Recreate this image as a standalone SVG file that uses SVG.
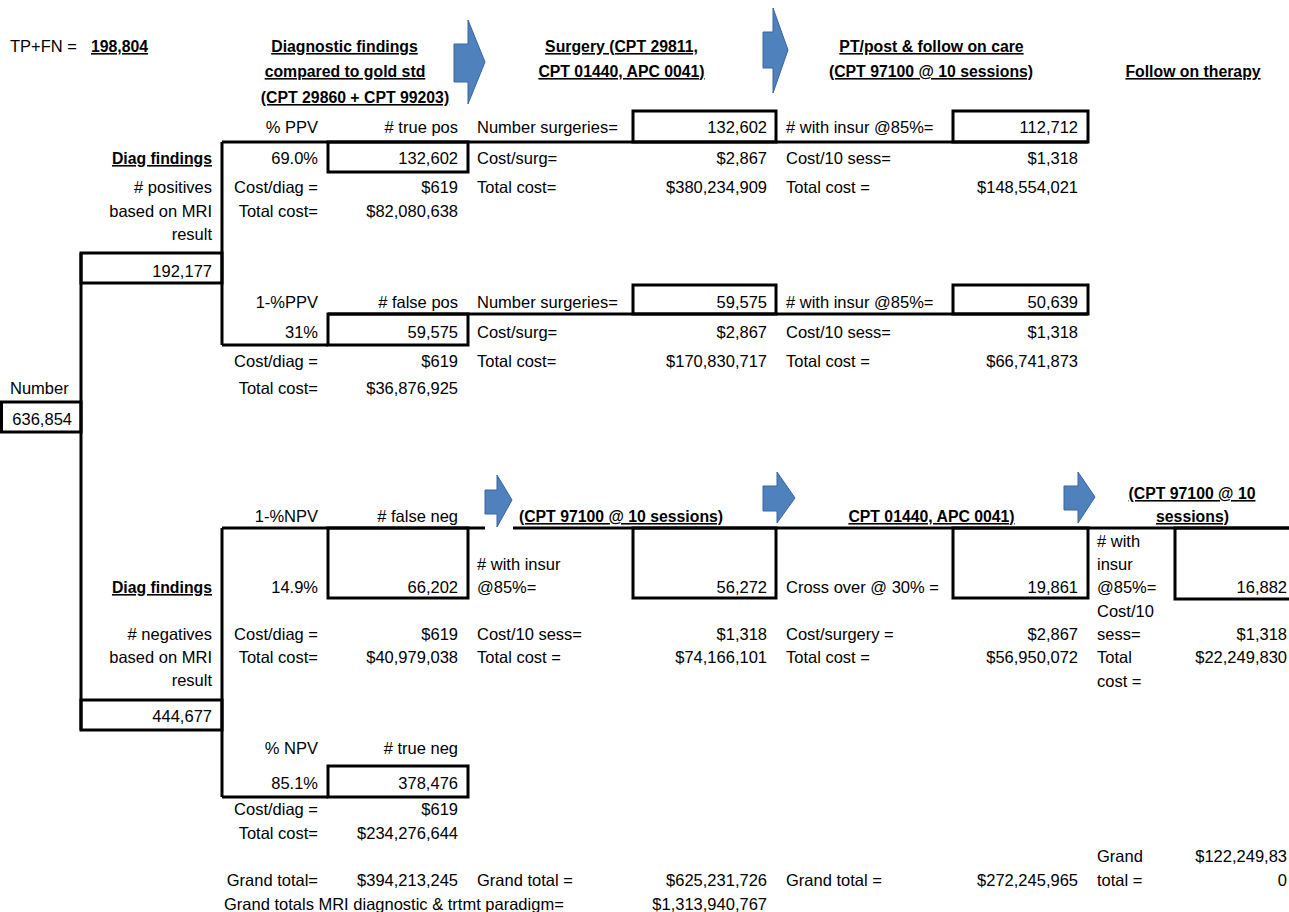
<svg xmlns="http://www.w3.org/2000/svg" width="1289" height="912" viewBox="0 0 1289 912">
<style>
text{font-family:"Liberation Sans",Arial,sans-serif;font-size:16.5px;fill:#000}
.r{text-anchor:end}
.m{text-anchor:middle}
.b{font-weight:bold;font-size:15.8px;text-decoration:underline}
.box{fill:none;stroke:#000;stroke-width:3}
.ln{fill:none;stroke:#000;stroke-width:3}
.arr{fill:#4F81BD;stroke:#3A64A0;stroke-width:1}
</style>
<rect width="1289" height="912" fill="#fff"/>

<g id="connectors">
<path class="ln" d="M81 253V730"/>
<path class="ln" d="M222 142V345"/>
<path class="ln" d="M222 528V797"/>
<path class="ln" d="M222 142H1088"/>
<path class="ln" d="M222 345H328"/>
<path class="ln" d="M328 314H1088"/>
<path class="ln" d="M222 528H485M513 528H1295"/>
<path class="ln" d="M222 797H328"/>
</g>

<g id="arrows">
<polygon class="arr" points="454,44 468,44 468,20 485,62 468,104 468,82 454,82"/>
<polygon class="arr" points="763,32 773,32 773,8 788,50 773,93 773,68 763,68"/>
<polygon class="arr" points="485,490 497,490 497,475 512,500 497,527 497,514 485,514"/>
<polygon class="arr" points="763,486 777,486 777,472 795,498 777,523 777,511 763,511"/>
<polygon class="arr" points="1064,486 1078,486 1078,472 1095,497 1078,523 1078,510 1064,510"/>
</g>

<g id="header">
<text x="10" y="52">TP+FN =</text>
<text x="91" y="52" class="b">198,804</text>
<text x="344.5" y="52" class="b m">Diagnostic findings</text>
<text x="345" y="77" class="b m">compared to gold std</text>
<text x="355" y="103" class="b m">(CPT 29860 + CPT 99203)</text>
<text x="621.5" y="52" class="b m">Surgery (CPT 29811,</text>
<text x="621.5" y="77" class="b m">CPT 01440, APC 0041)</text>
<text x="931.5" y="52" class="b m">PT/post &amp; follow on care</text>
<text x="931" y="77" class="b m">(CPT 97100 @ 10 sessions)</text>
<text x="1193" y="77" class="b m">Follow on therapy</text>
</g>

<g id="root">
<rect class="box" x="1.5" y="402" width="79.5" height="30"/>
<text x="10" y="394">Number</text>
<text x="72" y="425" class="r">636,854</text>
</g>

<g id="positives">
<rect class="box" x="81" y="253" width="141" height="30"/>
<text x="212" y="164" class="r b">Diag findings</text>
<text x="212" y="193" class="r"># positives</text>
<text x="212" y="217" class="r">based on MRI</text>
<text x="212" y="240" class="r">result</text>
<text x="212" y="277" class="r">192,177</text>
</g>

<g id="true-pos">
<rect class="box" x="328" y="142" width="140" height="30"/>
<text x="318" y="133" class="r">% PPV</text>
<text x="458" y="133" class="r"># true pos</text>
<text x="318" y="164" class="r">69.0%</text>
<text x="458" y="164" class="r">132,602</text>
<text x="318" y="193" class="r">Cost/diag =</text>
<text x="458" y="193" class="r">$619</text>
<text x="318" y="217" class="r">Total cost=</text>
<text x="458" y="217" class="r">$82,080,638</text>
</g>

<g id="surgery-tp">
<rect class="box" x="633" y="111" width="143" height="31"/>
<text x="477" y="133">Number surgeries=</text>
<text x="767" y="133" class="r">132,602</text>
<text x="477" y="164">Cost/surg=</text>
<text x="767" y="164" class="r">$2,867</text>
<text x="477" y="193">Total cost=</text>
<text x="767" y="193" class="r">$380,234,909</text>
</g>

<g id="pt-tp">
<rect class="box" x="953" y="111" width="135" height="31"/>
<text x="786" y="133"># with insur @85%=</text>
<text x="1078" y="133" class="r">112,712</text>
<text x="786" y="164">Cost/10 sess=</text>
<text x="1078" y="164" class="r">$1,318</text>
<text x="786" y="193">Total cost =</text>
<text x="1078" y="193" class="r">$148,554,021</text>
</g>

<g id="false-pos">
<rect class="box" x="328" y="314" width="140" height="31"/>
<text x="318" y="308" class="r">1-%PPV</text>
<text x="458" y="308" class="r"># false pos</text>
<text x="318" y="338" class="r">31%</text>
<text x="458" y="338" class="r">59,575</text>
<text x="318" y="367" class="r">Cost/diag =</text>
<text x="458" y="367" class="r">$619</text>
<text x="318" y="394" class="r">Total cost=</text>
<text x="458" y="394" class="r">$36,876,925</text>
</g>

<g id="surgery-fp">
<rect class="box" x="633" y="285" width="143" height="29"/>
<text x="477" y="308">Number surgeries=</text>
<text x="767" y="308" class="r">59,575</text>
<text x="477" y="338">Cost/surg=</text>
<text x="767" y="338" class="r">$2,867</text>
<text x="477" y="367">Total cost=</text>
<text x="767" y="367" class="r">$170,830,717</text>
</g>

<g id="pt-fp">
<rect class="box" x="953" y="285" width="135" height="29"/>
<text x="786" y="308"># with insur @85%=</text>
<text x="1078" y="308" class="r">50,639</text>
<text x="786" y="338">Cost/10 sess=</text>
<text x="1078" y="338" class="r">$1,318</text>
<text x="786" y="367">Total cost =</text>
<text x="1078" y="367" class="r">$66,741,873</text>
</g>

<g id="negatives">
<rect class="box" x="81" y="700" width="141" height="30"/>
<text x="212" y="593" class="r b">Diag findings</text>
<text x="212" y="640" class="r"># negatives</text>
<text x="212" y="663" class="r">based on MRI</text>
<text x="212" y="686" class="r">result</text>
<text x="212" y="722" class="r">444,677</text>
</g>

<g id="false-neg">
<rect class="box" x="328" y="528" width="140" height="70"/>
<text x="318" y="522" class="r">1-%NPV</text>
<text x="458" y="522" class="r"># false neg</text>
<text x="318" y="593" class="r">14.9%</text>
<text x="458" y="593" class="r">66,202</text>
<text x="318" y="640" class="r">Cost/diag =</text>
<text x="458" y="640" class="r">$619</text>
<text x="318" y="663" class="r">Total cost=</text>
<text x="458" y="663" class="r">$40,979,038</text>
</g>

<g id="pt-fn">
<rect class="box" x="633" y="528" width="143" height="70"/>
<text x="621" y="522" class="b m">(CPT 97100 @ 10 sessions)</text>
<text x="477" y="570"># with insur</text>
<text x="477" y="593">@85%=</text>
<text x="767" y="593" class="r">56,272</text>
<text x="477" y="640">Cost/10 sess=</text>
<text x="767" y="640" class="r">$1,318</text>
<text x="477" y="663">Total cost =</text>
<text x="767" y="663" class="r">$74,166,101</text>
</g>

<g id="surgery-fn">
<rect class="box" x="953" y="528" width="135" height="70"/>
<text x="931.5" y="522" class="b m">CPT 01440, APC 0041)</text>
<text x="786" y="593">Cross over @ 30% =</text>
<text x="1078" y="593" class="r">19,861</text>
<text x="786" y="640">Cost/surgery =</text>
<text x="1078" y="640" class="r">$2,867</text>
<text x="786" y="663">Total cost =</text>
<text x="1078" y="663" class="r">$56,950,072</text>
</g>

<g id="followon-fn">
<rect class="box" x="1175" y="528" width="130" height="71"/>
<text x="1192" y="499" class="b m">(CPT 97100 @ 10</text>
<text x="1192.5" y="522" class="b m">sessions)</text>
<text x="1097" y="547"># with</text>
<text x="1097" y="570">insur</text>
<text x="1097" y="593">@85%=</text>
<text x="1287" y="593" class="r">16,882</text>
<text x="1097" y="617">Cost/10</text>
<text x="1097" y="640">sess=</text>
<text x="1287" y="640" class="r">$1,318</text>
<text x="1097" y="663">Total</text>
<text x="1287" y="663" class="r">$22,249,830</text>
<text x="1097" y="687">cost =</text>
</g>

<g id="true-neg">
<rect class="box" x="328" y="766" width="140" height="31"/>
<text x="318" y="754" class="r">% NPV</text>
<text x="458" y="754" class="r"># true neg</text>
<text x="318" y="789" class="r">85.1%</text>
<text x="458" y="789" class="r">378,476</text>
<text x="318" y="815" class="r">Cost/diag =</text>
<text x="458" y="815" class="r">$619</text>
<text x="318" y="839" class="r">Total cost=</text>
<text x="458" y="839" class="r">$234,276,644</text>
</g>

<g id="totals">
<text x="1097" y="862">Grand</text>
<text x="1287" y="862" class="r">$122,249,83</text>
<text x="318" y="886" class="r">Grand total=</text>
<text x="458" y="886" class="r">$394,213,245</text>
<text x="477" y="886">Grand total =</text>
<text x="767" y="886" class="r">$625,231,726</text>
<text x="786" y="886">Grand total =</text>
<text x="1078" y="886" class="r">$272,245,965</text>
<text x="1097" y="886">total =</text>
<text x="1287" y="886" class="r">0</text>
<text x="224" y="910">Grand totals MRI diagnostic &amp; trtmt paradigm=</text>
<text x="767" y="910" class="r">$1,313,940,767</text>
</g>
</svg>
